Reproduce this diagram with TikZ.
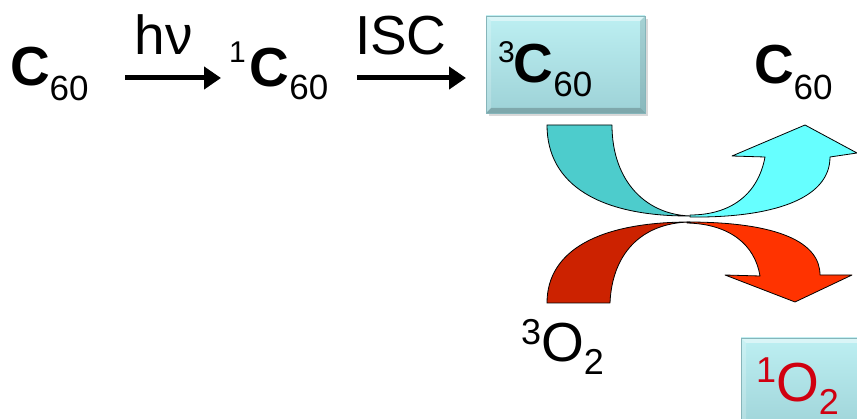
\documentclass[tikz,border=0pt]{standalone}
\usepackage{fontspec}
\setmainfont{Liberation Sans}
\usetikzlibrary{arrows.meta}
\definecolor{cyandk}{HTML}{4DCCCC}
\definecolor{cyanlt}{HTML}{66FFFF}
\definecolor{reddk}{HTML}{CC2200}
\definecolor{redlt}{HTML}{FF3300}
\definecolor{boxtop}{HTML}{BDEFF2}
\definecolor{boxbot}{HTML}{9DD2D7}
\definecolor{boxedge}{HTML}{86B5BA}
\definecolor{otwored}{HTML}{D00010}
\newcommand\bigf{\fontsize{55}{55}\selectfont}
\newcommand\smf{\fontsize{35}{35}\selectfont}
\newcommand\supf{\fontsize{30}{30}\selectfont}
\newcommand\ofnt{\fontsize{36}{36}\selectfont}
\newcommand\bevbox[4]{%
  \fill[black,opacity=0.15] (#1+3,#2+3) rectangle (#3+3,#4+3);
  \shade[top color=boxtop,bottom color=boxbot] (#1,#2) rectangle (#3,#4);
  \fill[white,opacity=0.45] (#1,#2) -- (#3,#2) -- (#3-5,#2+5) -- (#1+5,#2+5) -- cycle;
  \fill[white,opacity=0.2] (#1,#2) -- (#1+5,#2+5) -- (#1+5,#4-5) -- (#1,#4) -- cycle;
  \fill[black,opacity=0.12] (#3,#2) -- (#3,#4) -- (#3-5,#4-5) -- (#3-5,#2+5) -- cycle;
  \fill[black,opacity=0.2] (#1,#4) -- (#3,#4) -- (#3-5,#4-5) -- (#1+5,#4-5) -- cycle;
  \draw[boxedge,line width=0.8pt] (#1,#2) rectangle (#3,#4);
}
\begin{document}
\begin{tikzpicture}[x=1pt,y=-1pt,
  txt/.style={anchor=base west,inner sep=0pt,outer sep=0pt},
  rxn/.style={line width=5pt,-{Triangle[length=17pt,width=22pt]}},
  band/.style={draw=black,line width=0.8pt,line join=round}]
\useasboundingbox (0,0) rectangle (857,419);

% boxes
\bevbox{486}{16}{645}{113}
\bevbox{741}{338}{875}{435}

% texts
\node[txt] (c60) at (10,86) {{\bigf\bfseries C}\raisebox{-15pt}{\smf 60}};
\node[txt] (hv) at (134,55) {\bigf h\kern1ptν};
\node[txt] (c60s) at (229,87) {\raisebox{24pt}{\supf 1}\kern4pt{\bigf\bfseries C}\raisebox{-13pt}{\smf 60}};
\node[txt] (isc) at (355,55) {\bigf ISC};
\node[txt] (c60t) at (498,83) {\raisebox{20pt}{\supf 3}\kern-1pt{\bigf\bfseries C}\raisebox{-14pt}{\smf 60}};
\node[txt] (c60r) at (754,84) {{\bigf\bfseries C}\raisebox{-16pt}{\smf 60}};
\node[txt] (o2t) at (521,362) {\raisebox{17pt}{\ofnt 3}{\bigf O}\raisebox{-13pt}{\ofnt 2}};
\node[txt,text=otwored] (o2s) at (756,402) {\raisebox{19pt}{\ofnt 1}{\bigf O}\raisebox{-13pt}{\ofnt 2}};

% reaction arrows
\coordinate (a1s) at (125,78);
\coordinate (a1e) at (221,78);
\coordinate (a2s) at (357,78);
\coordinate (a2e) at (466,78);
\draw[rxn] (a1s) -- (a1e);
\draw[rxn] (a2s) -- (a2e);

% curved crossing arrows
\path[band,fill=cyandk] (547,125) -- (612,125)
  .. controls (612,182) and (647,216) .. (693,216)
  .. controls (600,217) and (547,185) .. (547,125) -- cycle;
\path[band,fill=reddk] (547,303) -- (610,303)
  .. controls (612,255) and (640,223) .. (690,222)
  .. controls (600,222) and (547,250) .. (547,303) -- cycle;
\path[band,fill=cyanlt] (690,217)
  .. controls (770,218) and (830,200) .. (830,157)
  -- (857,153) -- (805,125) -- (732,156) -- (765,157)
  .. controls (758,195) and (730,215) .. (690,215) -- cycle;
\path[band,fill=redlt] (687,222)
  .. controls (780,222) and (820,243) .. (820,275)
  -- (852,275) -- (795,302) -- (725,275) -- (760,276)
  .. controls (755,245) and (730,224) .. (687,223) -- cycle;
\end{tikzpicture}
\end{document}
